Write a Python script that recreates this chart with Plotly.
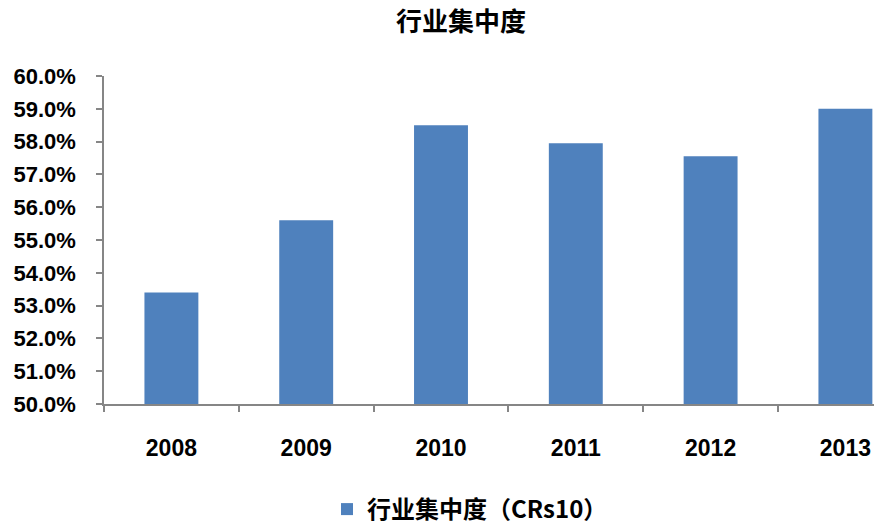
import plotly.graph_objects as go

years = ["2008", "2009", "2010", "2011", "2012", "2013"]
concentration = [0.534, 0.556, 0.585, 0.5795, 0.5755, 0.590]
series_name = "行业集中度（CRs10）"
chart_title = "行业集中度"
y_ticks = [0.50, 0.51, 0.52, 0.53, 0.54, 0.55, 0.56, 0.57, 0.58, 0.59, 0.60]

W, H = 874, 532
L, R, T, B = 104, 0, 76, 125

fig = go.Figure()
fig.add_trace(go.Bar(
    x=years, y=concentration, name=series_name,
    marker=dict(color="#4F81BD", line=dict(width=0)),
    width=0.4, showlegend=True,
))

cat_w = 134.8
x_hi = 5.5 - (L + 6 * cat_w - W) / cat_w

fig.update_layout(
    width=W, height=H,
    margin=dict(l=L, r=R, t=T, b=B, pad=0),
    paper_bgcolor="white", plot_bgcolor="white",
    title=dict(text=chart_title, xref="container", yref="container",
               x=461 / W, xanchor="center", y=1 - 22 / H, yanchor="middle",
               font=dict(family="Noto Sans CJK SC", size=26, color="#000000", weight="bold")),
    showlegend=True,
    legend=dict(orientation="h", x=(470 - L) / (W - L - R), xanchor="center",
                y=-(514 - 407) / (407 - T), yanchor="middle",
                font=dict(family="Noto Sans CJK SC", size=24, color="#000000", weight="bold"),
                itemwidth=30, bgcolor="rgba(0,0,0,0)"),
    bargap=0.6,
)

fig.update_xaxes(
    type="category", range=[-0.5, x_hi],
    showline=True, linecolor="#868686", linewidth=1.5,
    ticks="outside", ticklen=6, tickcolor="#868686", tickwidth=1.5,
    tickson="boundaries", showgrid=False, zeroline=False,
    ticklabelstandoff=23,
    tickfont=dict(family="Liberation Sans", size=23, color="#000000", weight="bold"),
)
fig.update_yaxes(
    range=[0.50, 0.60], tickvals=y_ticks, tickformat=".1%",
    showline=True, linecolor="#868686", linewidth=1.5,
    ticks="outside", ticklen=6, tickcolor="#868686", tickwidth=1.5,
    showgrid=False, zeroline=False,
    ticklabelstandoff=16,
    tickfont=dict(family="Liberation Sans", size=22, color="#000000", weight="bold"),
)

fig.write_html("out.html", config={"displayModeBar": False},
               post_script="document.body.style.margin='0';")
